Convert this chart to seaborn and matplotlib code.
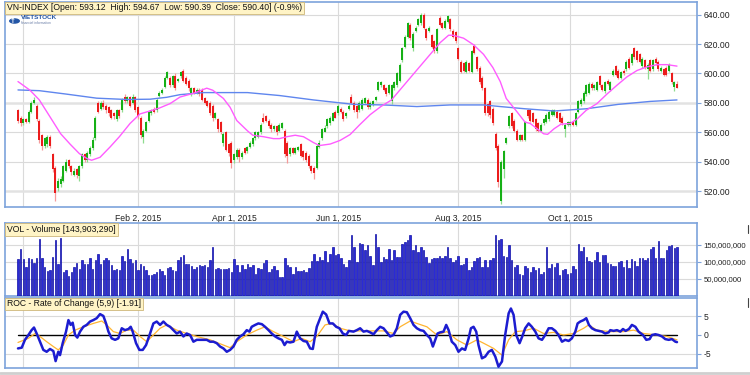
import numpy as np
import matplotlib
matplotlib.use("Agg")
import matplotlib.pyplot as plt
import seaborn as sns
from matplotlib.lines import Line2D
from matplotlib.patches import Circle

# ---------------- data ----------------
opens = [575,570,566,569,567,574,580,578,568,558,
         551,552,557,545,536,522,525,527,534,541,
         537,531,535,530,537,545,541,545,549,556,
         580,576,580,578,577,575,573,569,575,575,
         584,581,584,580,584,577,570,557,561,568,
         573,576,575,585,587,591,597,597,592,598,
         595,598,602,597,595,586,590,587,589,589,
         583,581,580,578,570,569,567,553,560,552,
         553,541,543,548,543,549,547,550,552,556,
         557,560,570,571,568,565,562,564,561,563,
         561,553,545,549,546,548,552,547,546,544,
         537,536,536,550,556,560,564,566,568,574,
         573,576,574,571,576,584,580,578,575,576,
         580,582,577,579,582,589,592,592,590,587,
         581,590,592,595,609,618,625,633,617,629,
         633,634,640,630,629,626,622,615,638,634,
         631,635,637,629,628,617,608,607,601,607,
         601,619,611,604,597,590,579,581,576,559,
         551,513,535,553,564,573,568,561,555,558,
         555,575,575,573,569,566,561,566,567,569,
         572,572,574,573,570,562,565,565,567,565,
         574,579,581,586,587,593,590,589,598,592,
         588,595,589,599,605,602,597,602,603,610,
         607,617,615,613,605,609,603,609,603,610,
         608,602,603,604,602,600,591,593.12]
closes = [568,566,569,567,574,580,582,569,555,551,
          556,557,551,535,519,527,528,537,540,537,
          533,534,531,537,545,541,546,549,555,570,
          574,580,577,575,573,570,571,575,571,582,
          581,584,578,584,575,571,558,561,567,574,
          575,574,582,587,589,597,601,592,598,590,
          596,601,595,593,590,590,587,589,586,582,
          580,578,573,570,573,562,560,559,548,546,
          539,545,548,543,546,546,550,553,556,560,
          560,565,567,568,564,562,564,560,565,566,
          545,544,549,546,549,550,544,543,541,537,
          534,532,551,553,562,563,569,570,573,570,
          578,574,569,573,578,580,575,574,580,582,
          583,577,580,581,584,594,594,589,586,592,
          592,594,600,606,617,625,634,624,627,631,
          637,640,631,624,631,618,615,630,633,631,
          636,639,630,625,622,610,601,602,608,602,
          615,614,603,594,590,573,573,572,566,549,
          526,540,547,556,571,564,561,555,558,555,
          567,571,568,567,562,561,565,569,572,574,
          575,575,570,567,566,565,567,567,565,573,
          581,582,587,592,593,590,592,594,592,589,
          594,593,594,602,599,597,601,600,608,604,
          613,611,609,608,610,604,606,602,609,607,
          603,604,599,599,606,594,594,590.40]
highs = [576,571,570,570,575,581,584,579,569,559,
         557,558,558,546,537,529,530,538,542,542,
         538,536,536,538,546,546,547,551,557,571,
         581,581,582,579,578,576,574,576,576,583,
         586,585,585,586,585,578,571,562,568,575,
         576,577,583,588,590,598,602,598,599,600,
         597,602,603,598,596,591,591,590,590,590,
         584,582,581,579,574,570,568,560,561,553,
         554,546,549,549,547,550,551,554,557,561,
         561,566,573,572,569,566,565,565,566,567,
         562,554,550,550,550,551,553,548,547,545,
         538,537,552,555,563,565,570,571,574,575,
         579,577,575,574,579,586,581,579,581,583,
         584,583,581,582,585,595,595,593,591,593,
         593,595,601,607,618,626,635,634,628,632,
         638,641,641,631,632,627,623,631,639,635,
         637,640,638,630,629,618,609,608,609,608,
         616,620,612,605,598,591,580,582,577,560,
         552,541,548,557,572,574,569,562,559,559,
         568,576,576,574,570,567,566,570,573,575,
         576,576,575,574,571,566,568,568,568,574,
         582,583,588,593,594,594,593,595,599,593,
         595,596,595,603,606,603,602,603,609,611,
         614,618,616,614,611,610,607,610,610,611,
         609,605,604,605,607,601,595,594.67]
lows = [566,564,565,566,566,573,579,568,553,548,
        549,550,549,533,513,520,523,526,533,536,
        531,530,529,527,536,540,540,544,548,555,
        573,575,576,573,571,569,569,568,570,574,
        580,580,577,579,574,569,556,553,560,567,
        572,573,574,584,586,590,596,591,591,589,
        594,597,594,592,588,585,586,586,585,581,
        579,577,572,568,569,560,559,551,547,544,
        536,539,542,540,542,545,546,549,551,555,
        556,559,566,567,563,560,561,558,560,562,
        543,539,544,545,545,547,543,541,540,536,
        532,528,535,549,555,560,563,565,568,570,
        572,573,568,570,575,579,574,570,574,575,
        579,576,576,578,581,588,591,588,585,586,
        579,589,591,594,608,617,624,623,615,628,
        632,633,630,623,628,617,614,614,632,630,
        630,634,629,624,621,609,600,601,600,601,
        600,613,602,593,589,572,571,570,565,548,
        523,511,529,552,563,563,560,554,554,554,
        554,570,567,566,561,560,560,565,566,568,
        571,571,569,566,565,557,564,564,564,564,
        573,578,580,585,586,589,589,588,591,588,
        587,592,588,598,598,596,596,599,602,603,
        606,610,608,607,604,603,596,601,602,606,
        602,601,598,598,601,593,588,590.39]
volume_m = [107,138,108,85,110,107,95,110,168,110,
            85,73,77,114,165,94,170,70,75,58,
            70,85,95,80,106,92,92,110,80,105,
            123,92,106,110,106,90,75,80,77,117,
            102,139,107,96,106,75,93,88,75,62,
            62,65,70,80,73,60,83,84,75,73,
            105,115,120,92,92,87,80,85,90,87,
            89,85,105,145,80,83,79,80,80,82,
            70,108,90,70,90,80,92,85,90,65,
            82,80,95,105,70,78,88,77,55,55,
            112,90,86,65,85,73,72,75,70,82,
            102,123,102,115,105,132,100,122,143,120,
            123,110,92,85,105,180,145,100,155,153,
            135,150,118,90,182,145,100,113,107,137,
            105,135,113,115,153,160,165,178,135,150,
            128,145,135,113,97,107,110,112,117,110,
            117,145,110,98,105,117,90,92,110,75,
            85,102,110,115,85,105,85,105,110,180,
            165,167,118,115,150,105,85,90,65,62,
            88,82,70,85,77,83,65,70,145,82,
            92,85,95,62,75,80,65,67,88,80,
            153,132,145,115,102,100,105,128,98,120,
            120,97,93,88,88,100,103,85,105,82,
            107,102,88,110,110,105,110,138,145,110,
            162,110,110,135,148,150,140,143.90329]

ma20_idx = [0,4.5,8,12,16,19.5,23,26,27.6,30.75,34.5,38,42,45.75,49.5,53,57,60.75,
            65.75,70.75,73,77,79.5,82,86,88,92,95.75,98,100.75,103.9,107,110.75,113,
            117,120.75,124.5,128,132,136,140,143.25,147,150.75,154.5,158.25,161.4,163,
            167,170.75,174.5,178,180.75,183,187,190,192,194.5,197,198.5,201,203.5,207,
            209.5,213,217,220.75,224.5,228.25,232,235.75,239.5,243.25,247]
ma20_val = [594.5,588.6,582,570.5,559,552,545.5,542,541,543,550,557,566,572.5,574.5,
            576.5,579.5,584,586.5,590,588.6,583,577,568,561,558,557,555.7,555.7,557,
            558,557,553,551,552,554.5,558.5,565,572,577.5,582,589,597,605,613,621,626,
            626,624,619.5,613,604,594.5,583,574,567,566,562.5,559,558.6,562.5,565.5,
            566,569,575,579.5,586,592,597.7,602,604.5,606,606,605]
ma200_idx = [0,8,18,29.5,40.75,49.5,55.75,60.75,69.5,80.7,86,98,110.75,120.75,126,
             137,149.5,162,174.5,180.75,190,201,213,225,237,247]
ma200_val = [588.8,588.3,586,583.2,582.3,582.5,583.8,585.6,587,587,587,585,582,580,
             579,578.6,577.5,578.6,578.6,577.5,576,574.5,576,579,581,582]

roc_idx = [0,1.4,2.6,3.9,5.1,6,7,8.25,9.5,10.75,12,13.25,14.1,15.1,15.75,16.75,18,18.9,
           19.75,20.5,21.4,22.25,23.25,24.5,25.75,27,28.25,29.5,30.75,32,33,33.9,35.1,
           36.4,37.6,38.9,40.1,41.4,42.25,43,44.25,45.5,46.75,48,49.5,50.75,52,53.25,
           54.5,55.75,57,58.25,59.5,60.75,62,63.25,64.5,65.75,67,68.25,69.5,70.75,72,
           73.25,74.5,75.75,77,78.25,79.5,80.75,82,83.25,84.5,85.75,86.75,87.6,88.9,
           90.1,91.4,92.6,93.9,95.1,96.4,97.6,98.9,99.9,100.75,102,103.25,104.5,105.75,
           107,108.25,109.5,110.5,111.4,112,113.25,114.25,115.5,116.75,118,119.25,120.5,
           121.75,123,124,125.75,127,128.25,129.5,130.75,132,133.25,134.5,135.75,137,
           138.25,139.5,140.75,142,143.25,144.5,145.75,147,148.25,149.5,150.75,152,
           153.25,154.5,155.5,156.4,157.25,158.25,159.5,160.5,161.4,162.6,163.9,165.1,
           166.4,167.6,168.9,169.75,170.75,171.75,172.6,173.9,175.1,176.4,177.6,178.9,
           180.1,181.4,182.6,183.9,184.75,185.75,186.75,188,189,190.1,191.4,192.6,193.9,
           195.1,196.4,197.6,198.9,200.1,201.4,202.6,203.9,205.1,206.4,207.6,208.9,
           209.75,210.75,212,213,214,215.1,216.4,217.6,218.9,220.1,221.4,222,223.25,
           224.5,225.75,226.75,227.75,229,230.1,231.4,232.6,234.25,235.5,236.75,237.6,
           238.9,240.1,241.4,242.6,243.9,245.1,246.4,247]
roc_val = [-3.6,-3.4,-1.3,0,1.3,2,0.4,-1.8,-4.0,-4.5,-3.75,-4.3,-7,-4.5,-5.4,-2.2,0.9,4,
           2.7,3.3,0,-0.7,0.9,2.2,2.7,3.6,4,4.5,5.6,5.1,3.1,0.9,-0.9,
           -1.3,-0.9,1.8,1.3,1.6,2.2,0.9,-2.2,-4.0,-4.0,-2.7,0.4,3.1,3.6,2.7,
           3.6,2.7,2.2,1.3,0.4,0.9,-0.4,0.4,0,-1.8,-1.3,-1.3,-1.3,-1.3,-1.8,
           -1.8,-2.2,-3.1,-3.6,-4.5,-4.0,-3.1,-1.3,-0.4,0.2,1.3,0.9,2.2,2.7,
           3.1,2.9,2.2,1.3,0.4,-0.4,-0.9,-1.3,-2.7,-1.8,-2.0,-1.8,0.9,-0.9,
           -1.6,-1.8,-3.6,-3.75,0,2.2,4.5,6.25,5.5,3.1,3.1,2.2,1.8,
           0.4,0,1.1,0.9,1.3,1.8,0.9,1.1,0.7,0.2,1.3,2.2,1.8,
           0.7,-0.4,0,1.8,5.4,6.25,6.1,4.5,2.7,1.8,1.3,1.1,
           0,-0.9,-3.1,-1.3,0.4,0.7,0.9,2.7,1.3,-1.8,-2.7,-4.5,
           -3.6,-4.0,-0.9,1.8,2.2,0.9,-2.7,-6.25,-5.8,-4.5,-4.0,-5.8,
           -8.5,-7.1,0,5.8,7.1,5.4,0,-2.2,-0.4,1.8,3.1,2.2,0.9,
           -0.9,-1.3,0,1.8,1.8,1.1,0,-1.8,-1.3,-1.6,-0.9,0.9,
           3.1,3.6,4.0,4.5,2.7,1.8,1.3,1.1,0.9,0.4,0.7,1.3,1.1,
           1.3,0.9,1.6,1.1,1.6,2.7,2.2,0.9,0,-1.3,-1.1,0,
           0.2,0,-0.4,-1.1,-1.3,-1.1,-1.8,-1.91]
sig_idx = [0,3.9,6.4,8.25,10.75,13.25,15.1,17,18.9,21.4,24.5,28.25,31.4,33.25,35.75,
           38.25,40.75,43.25,45.75,48.25,50.75,53.25,55.75,59.5,63.25,67,72,77,79.5,82,
           85.75,89.5,92.6,95.75,99.5,103.25,106.4,109.5,112,115.1,117.6,120.75,124.5,
           130.75,137,140.75,143.25,147,149.5,153.25,157,160.75,164.5,168.25,172,174.5,
           178.25,181.4,183.9,186.4,189.5,193.25,197,200.75,204.5,208.25,212,213.9,217,
           222,227,230.75,234.5,239.5,243.25,247]
sig_val = [-2.0,-0.9,0.4,-0.4,-1.8,-3.1,-4.0,-2.7,0,1.3,2.2,3.1,3.75,2.7,0.9,
           0.4,1.3,1.3,-0.4,-1.8,0,1.8,2.7,1.3,0.4,-0.4,-1.3,-2.7,-3.4,-1.8,
           0,1.3,2.2,0.9,-0.4,-1.8,-0.9,-1.8,-0.4,2.7,3.1,1.8,1.1,
           1.1,1.1,0.4,2.2,3.75,3.1,2.2,0,0.9,-1.3,-2.7,-1.3,-2.2,
           -3.6,-5.4,-1.3,0.9,1.1,1.8,0.4,0.7,0,0.4,1.8,2.7,1.3,
           0.9,0.9,1.3,0.4,0,-0.4,-1.3]

date_pos = [2, 45, 81, 120, 165, 207]
date_lab = ['', 'Feb 2, 2015', 'Apr 1, 2015', 'Jun 1, 2015', 'Aug 3, 2015', 'Oct 1, 2015']
price_ticks = [520, 540, 560, 580, 600, 620, 640]
vol_ticks = [50, 100, 150]
roc_ticks = [-5, 0, 5]

title_main = "VN-INDEX [Open: 593.12  High: 594.67  Low: 590.39  Close: 590.40] (-0.9%)"
title_vol = "VOL - Volume [143,903,290]"
title_roc = "ROC - Rate of Change (5,9) [-1.91]"

# ---------------- styling ----------------
sns.set_theme(style="white")
plt.rcParams['font.family'] = ['Liberation Sans', 'DejaVu Sans']

BORDER = '#7da3dc'
GRID = '#dadada'
FS = 6.2
W, H = 750, 375

fig = plt.figure(figsize=(7.5, 3.75), dpi=100)
fig.patch.set_facecolor('white')

def rect(x0, y0, x1, y1):
    return [x0 / W, 1 - y1 / H, (x1 - x0) / W, (y1 - y0) / H]

ax = fig.add_axes(rect(5, 2, 697, 207))
axv = fig.add_axes(rect(5, 223, 697, 295.5))
axr = fig.add_axes(rect(5, 297.5, 697, 368.3))

XL = (-4.87, 254.5)
n = len(closes)
idx = np.arange(n)

for a in (ax, axv, axr):
    a.set_facecolor('white')
    a.set_xlim(*XL)
    for s in a.spines.values():
        s.set_color(BORDER)
        s.set_linewidth(1.2)
    a.yaxis.tick_right()
    a.tick_params(axis='y', which='both', direction='out', length=3, width=0.8,
                  color=BORDER, labelsize=FS, pad=2, labelcolor='#222222')
    for p in date_pos:
        a.axvline(p, color=GRID, lw=0.8, zorder=0)

# ---- main price panel ----
ax.set_ylim(509.2, 648.6)
for v in price_ticks:
    ax.axhline(v, color=GRID if v not in (580, 520) else '#e2e2e2',
               lw=0.8 if v not in (580, 520) else 1.8, zorder=0)
ax.set_yticks(price_ticks)
ax.set_yticklabels([f"{v:.2f}" for v in price_ticks])
ax.set_xticks(date_pos)
ax.set_xticklabels(date_lab)
ax.tick_params(axis='x', direction='out', length=3, width=0.8, color='#9a9a9a',
               labelsize=FS, pad=2, labelcolor='#222222')

o = np.array(opens, float); c = np.array(closes, float)
h = np.array(highs, float); l = np.array(lows, float)
up = c >= o
ax.vlines(idx[up], l[up], h[up], color='#8fdc8f', lw=0.9, zorder=2)
ax.vlines(idx[~up], l[~up], h[~up], color='#f59a9a', lw=0.9, zorder=2)
ax.bar(idx, np.maximum(np.abs(c - o), 0.5), bottom=np.minimum(o, c), width=0.75,
       color=np.where(up, '#16b016', '#ec1c1c'), linewidth=0, zorder=3)

sns.lineplot(x=ma200_idx, y=ma200_val, ax=ax, color='#5f86ee', linewidth=1.0,
             sort=False, estimator=None, zorder=4)
sns.lineplot(x=ma20_idx, y=ma20_val, ax=ax, color='#ff5cff', linewidth=1.0,
             sort=False, estimator=None, zorder=4)
ax.set_xlabel(''); ax.set_ylabel('')
ax.set_xlim(*XL)

# ---- volume panel ----
vol = np.array(volume_m, float)
axv.set_ylim(0, 215)
for v in vol_ticks:
    axv.axhline(v, color=GRID, lw=0.8, zorder=0)
axv.bar(idx, vol, width=0.55, color='#2a2ad6', edgecolor='#0000a0', linewidth=0.45, zorder=3)
axv.set_yticks(vol_ticks)
axv.set_yticklabels([f"{v*1000000:,}" for v in vol_ticks])
axv.tick_params(axis='y', labelsize=5.6, pad=1.5)
axv.set_xticks([])
axv.set_xlim(*XL)

# ---- ROC panel ----
axr.set_ylim(-8.93, 10.05)
for v in (-5, 5):
    axr.axhline(v, color=GRID, lw=0.8, zorder=0)
axr.plot([0, n - 1], [0, 0], color='black', lw=1.0, zorder=2)
sns.lineplot(x=sig_idx, y=sig_val, ax=axr, color='#ffb531', linewidth=0.9,
             sort=False, estimator=None, zorder=3)
sns.lineplot(x=roc_idx, y=roc_val, ax=axr, color='#1c1cd0', linewidth=1.8,
             sort=False, estimator=None, zorder=4)
axr.set_xlabel(''); axr.set_ylabel('')
axr.set_yticks(roc_ticks)
axr.set_yticklabels(['-5', '0', '5'])
axr.set_xticks([])
axr.set_xlim(*XL)

# ---- title boxes ----
box = dict(boxstyle='square,pad=0.22', fc='#fff4c6', ec='#cdb77a', lw=0.6)
fig.text(7 / W, 1 - 3.5 / H, title_main, ha='left', va='top', fontsize=FS,
         color='#111111', bbox=box)
fig.text(7 / W, 1 - 225 / H, title_vol, ha='left', va='top', fontsize=FS,
         color='#111111', bbox=box)
fig.text(7 / W, 1 - 299.5 / H, title_roc, ha='left', va='top', fontsize=FS,
         color='#111111', bbox=box)

# ---- logo ----
fig.add_artist(Circle((14.5 / W, 1 - 21 / H), 5.5 / W, transform=fig.transFigure,
                      fc='#2456a6', ec='none'))
fig.text(12.5 / W, 1 - 21 / H, '↑', ha='center', va='center', fontsize=5,
         color='white', family=['DejaVu Sans'], fontweight='bold')
fig.text(21 / W, 1 - 17.5 / H, 'VIETSTOCK', ha='left', va='center', fontsize=4.6,
         color='#2456a6', fontweight='bold')
fig.text(21 / W, 1 - 22.5 / H, 'financial information', ha='left', va='center',
         fontsize=2.4, color='#6b7fa8')

# ---- small decorations ----
fig.add_artist(Line2D([0, 1], [1 - 372.5 / H] * 2, color='#cfcfcf', lw=2.0))
for y0, y1 in ((225, 233), (298, 307)):
    fig.add_artist(Line2D([748 / W] * 2, [1 - y0 / H, 1 - y1 / H], color='#444444', lw=0.8))

fig.savefig('out.png', dpi=100, facecolor='white')
